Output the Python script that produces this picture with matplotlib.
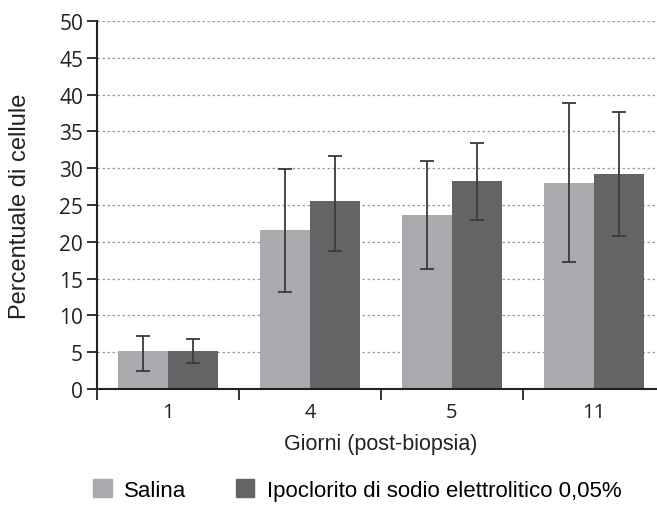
import matplotlib.pyplot as plt
import numpy as np
from matplotlib.patches import Patch

days = ['1', '4', '5', '11']
salina = [5.2, 21.6, 23.7, 28.0]
salina_lo = [2.5, 13.2, 16.3, 17.3]
salina_hi = [7.2, 29.9, 31.0, 38.8]
ipo = [5.2, 25.6, 28.2, 29.2]
ipo_lo = [3.5, 18.8, 22.9, 20.8]
ipo_hi = [6.8, 31.6, 33.4, 37.6]
labels = ['Salina', 'Ipoclorito di sodio elettrolitico 0,05%']

c_sal = '#a9aaad'
c_ipo = '#646466'

fig = plt.figure(figsize=(6.57, 5.06), dpi=100)
ax = fig.add_axes([0.1476, 0.2292, 0.8645, 0.7273])

x = np.arange(len(days))
w = 0.355
sal = np.array(salina)
ip = np.array(ipo)
err_s = [sal - np.array(salina_lo), np.array(salina_hi) - sal]
err_i = [ip - np.array(ipo_lo), np.array(ipo_hi) - ip]

ax.bar(x - w / 2, sal, w, color=c_sal, zorder=2)
ax.bar(x + w / 2, ip, w, color=c_ipo, zorder=2)
ax.errorbar(x - w / 2, sal, yerr=err_s, fmt='none', ecolor='#3a3a3a',
            elinewidth=1.3, capsize=5, capthick=1.3, zorder=3)
ax.errorbar(x + w / 2, ip, yerr=err_i, fmt='none', ecolor='#3a3a3a',
            elinewidth=1.3, capsize=5, capthick=1.3, zorder=3)

ax.set_xlim(-0.5, 3.5)
ax.set_ylim(0, 50)
ax.set_yticks(range(0, 51, 5))
for v in range(5, 51, 5):
    ax.axhline(v, color='#9a9a9a', linestyle=(0, (2, 2)), linewidth=0.9, zorder=1)

ax.set_xticks(x)
ax.set_xticklabels(days, fontsize=14.5, family='Open Sans', color='#222222')
ax.set_xticks(np.arange(-0.5, 4, 1), minor=True)
ax.tick_params(axis='x', which='major', length=0, pad=9)
ax.tick_params(axis='x', which='minor', length=8, width=1.3, direction='out', color='#222222')
ax.tick_params(axis='y', length=7, width=1.3, direction='out', color='#222222',
               labelsize=15, pad=3)
for t in ax.get_yticklabels():
    t.set_family('Open Sans')
    t.set_color('#222222')

for s in ['top', 'right']:
    ax.spines[s].set_visible(False)
for s in ['left', 'bottom']:
    ax.spines[s].set_linewidth(1.5)
    ax.spines[s].set_color('#222222')

ax.set_ylabel('Percentuale di cellule', fontsize=17, family='Liberation Sans',
              color='#222222', labelpad=20)
ax.set_xlabel('Giorni (post-biopsia)', fontsize=15.5, family='Liberation Sans',
              color='#222222', labelpad=8)

handles = [Patch(color=c_sal), Patch(color=c_ipo)]
fig.legend(handles, labels, loc='center left', bbox_to_anchor=(0.142, 0.03),
           ncol=2, frameon=False, handlelength=0.85, handleheight=0.85,
           columnspacing=2.2, handletextpad=0.55, borderpad=0, borderaxespad=0,
           prop={'family': 'Liberation Sans', 'size': 16})

fig.savefig('out.png', dpi=100)
